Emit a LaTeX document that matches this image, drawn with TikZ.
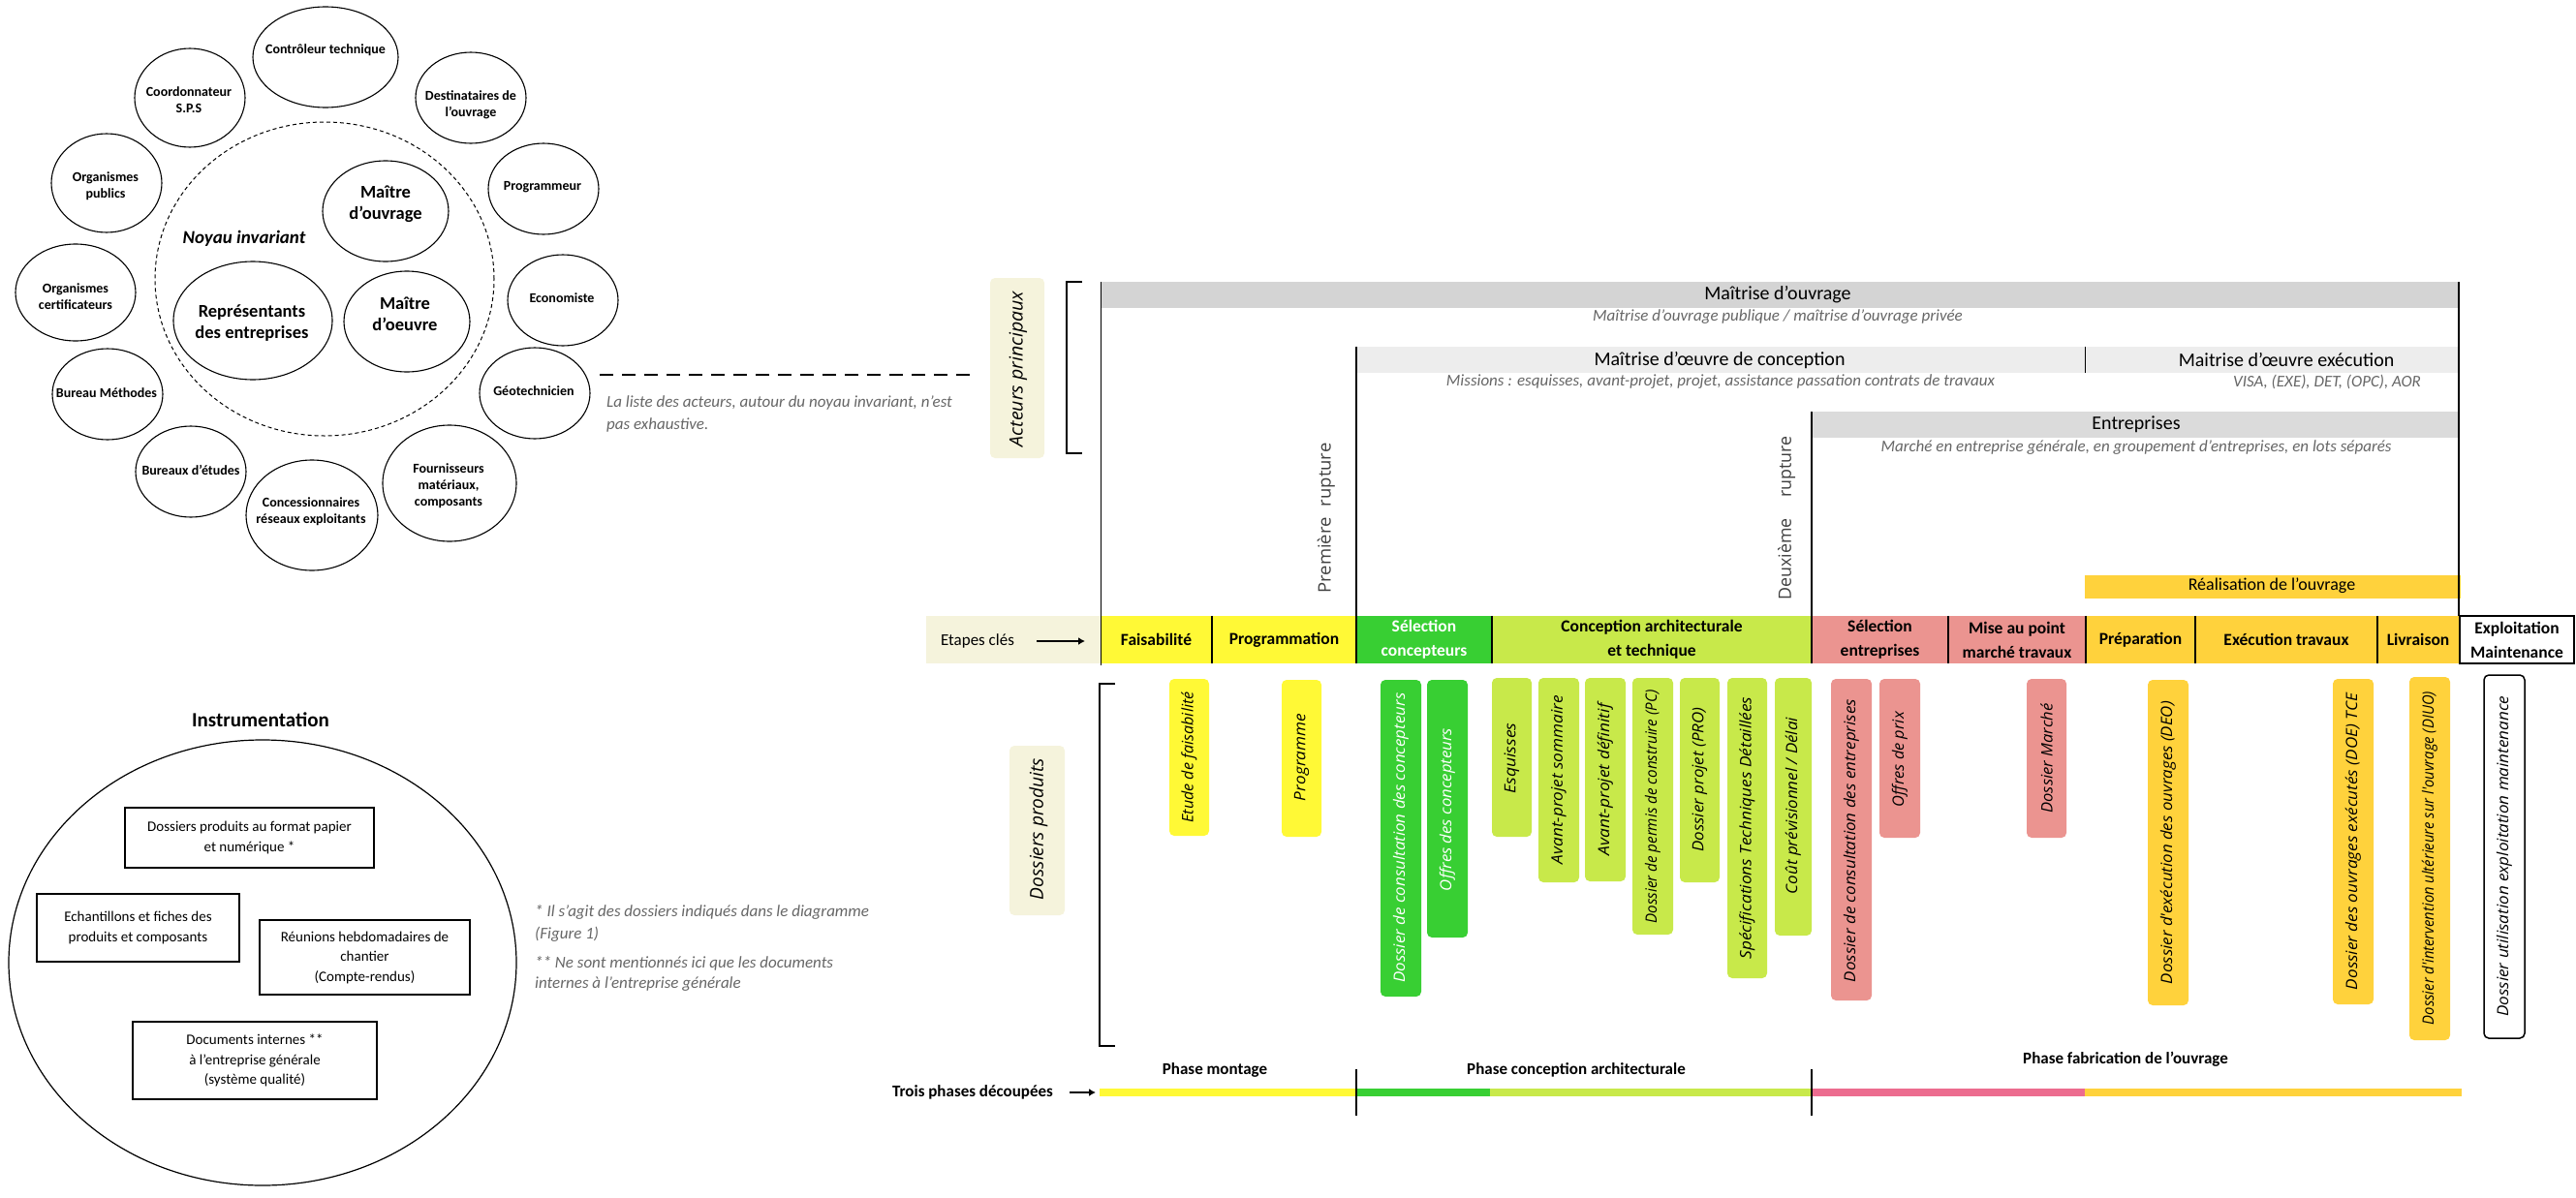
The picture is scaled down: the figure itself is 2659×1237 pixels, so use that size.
\documentclass[tikz,border=0pt]{standalone}
\usepackage{fontspec}
\usepackage{graphicx}
\usetikzlibrary{shapes.geometric,arrows.meta}
\setmainfont{Carlito}
\newfontfamily\rotf{Open Sans}
\definecolor{pale}{HTML}{F5F3DC}
\definecolor{yel}{HTML}{FFF936}
\definecolor{grn}{HTML}{38CF33}
\definecolor{lgrn}{HTML}{C8E94A}
\definecolor{pnk}{HTML}{EB9490}
\definecolor{org}{HTML}{FFD23C}
\definecolor{rose}{HTML}{EC6C8F}
\definecolor{noteg}{HTML}{666666}
\newcommand{\fsz}[2]{\fontsize{#1}{#2}\selectfont}
\tikzset{
  txt/.style={inner sep=0pt,align=center},
  elli/.style={ellipse,draw=black,line width=1.1pt,inner sep=0pt,minimum width=#1},
  sm/.style={txt,font=\fsz{14}{17}\bfseries},
  big/.style={txt,font=\fsz{18.5}{22}\bfseries},
  note/.style={txt,align=left,text=noteg,font=\fsz{17}{23}\itshape},
  sub/.style={txt,text=noteg,font=\fsz{17}{20}\itshape},
  head/.style={txt,font=\fsz{20}{24}},
  stage/.style={txt,font=\fsz{17.5}{25}\bfseries},
  box/.style={rectangle,draw=black,line width=1.2pt,inner sep=0pt,txt,font=\fsz{15}{20.5}},
  bar/.style={rectangle,inner sep=0pt,draw=none},
  card/.style={rectangle,rounded corners=5pt,inner sep=0pt,draw=none},
  rot/.style={txt,rotate=90,font=\rotf\fsz{16}{18}\itshape},
  vline/.style={draw=black,line width=1.8pt},
  brk/.style={draw=black,line width=1.3pt},
  arw/.style={draw=black,line width=2.4pt,-{Latex[length=7pt,width=8pt]}}
}
% ellipse: name cx cy rx ry, then text node tx ty text
\newcommand{\actor}[9]{%
  \node[elli=#4,minimum height=#5] (#1) at (#2,#3) {};
  \node[#6] (#1t) at (#7,#8) {#9};
}
% rectangle from corners: name x1 y1 x2 y2 style
\newcommand{\rbox}[6]{%
  \pgfmathsetmacro{\cxx}{(#2+#4)/2}\pgfmathsetmacro{\cyy}{(#3+#5)/2}%
  \pgfmathsetmacro{\wdd}{#4-#2}\pgfmathsetmacro{\htt}{#5-#3}%
  \node[#6,minimum width=\wdd pt,minimum height=\htt pt] (#1) at (\cxx,\cyy) {};
}
% rotated label of given length: name cx cy length text style
\newcommand{\rlab}[6]{%
  \node[rot,#6] (#1) at (#2,#3) {\resizebox{#4pt}{\height}{#5}};
}
\newcommand{\dcard}[9]{%
  \rbox{#1}{#2}{#3}{#4}{#5}{card,#6}
  \pgfmathsetmacro{\cxx}{(#2+#4)/2}%
  \rlab{#1t}{\cxx}{#7}{#8}{#9}{}
}
\begin{document}
\begin{tikzpicture}[x=1pt,y=-1pt]
\useasboundingbox (0,0) rectangle (2659,1237);
% ---- actors
\node[ellipse,draw=black,line width=1pt,dash pattern=on 4pt off 3pt,minimum width=350pt,minimum height=324pt,inner sep=0pt] (noyau) at (335,288) {};
\actor{ctrl}{336}{59}{150pt}{104pt}{sm}{336}{52}{Contrôleur technique}
\actor{coord}{196}{101}{114pt}{102pt}{sm}{195}{103}{Coordonnateur\\S.P.S}
\actor{dest}{486}{101}{114pt}{94pt}{sm}{486}{108}{Destinataires de\\l'ouvrage}
\actor{prog}{561}{195}{114pt}{94pt}{sm}{560}{193}{Programmeur}
\actor{orgp}{110}{189}{114pt}{102pt}{sm}{109}{192}{Organismes\\publics}
\actor{orgc}{78}{302}{124pt}{100pt}{sm}{78}{306}{Organismes\\certificateurs}
\actor{eco}{581}{310}{114pt}{94pt}{sm}{580}{308}{Economiste}
\actor{geo}{552}{406}{114pt}{94pt}{sm}{551}{404}{Géotechnicien}
\actor{bm}{111}{407}{114pt}{94pt}{sm}{110}{406}{Bureau Méthodes}
\actor{be}{197}{487}{114pt}{94pt}{sm}{197}{485}{Bureaux d'études}
\actor{conc}{322}{532}{136pt}{114pt}{sm}{321}{528}{Concessionnaires\\réseaux exploitants}
\actor{four}{464}{499}{138pt}{120pt}{sm}{463}{502}{Fournisseurs\\matériaux,\\composants}
\actor{mo}{398}{218}{130pt}{104pt}{big}{398}{211}{Maître\\d'ouvrage}
\actor{moe}{420}{332}{130pt}{104pt}{big}{418}{324}{Maître\\d'oeuvre}
\actor{rep}{261}{331}{164pt}{122pt}{big}{260}{334}{Représentants\\des entreprises}
\node[txt,font=\fsz{19}{22}\itshape\bfseries] (noyt) at (252,246) {Noyau invariant};
\coordinate (dl1) at (619,387); \coordinate (dl2) at (1006,387);
\draw[draw=black,line width=2.4pt,dash pattern=on 14pt off 9pt] (dl1) -- (dl2);
\node[note,anchor=west] (lst) at (626,427.5) {La liste des acteurs, autour du noyau invariant, n'est\\pas exhaustive.};
% ---- instrumentation
\node[txt,font=\fsz{21}{24}\bfseries] (inst) at (269,743) {Instrumentation};
\node[ellipse,draw=black,line width=1.2pt,minimum width=524pt,minimum height=460pt,inner sep=0pt] (ie) at (271,994) {};
\node[box,minimum width=257pt,minimum height=62pt] (ba) at (257.5,865) {Dossiers produits au format papier\\et numérique *};
\node[box,minimum width=209pt,minimum height=70pt] (bb) at (142.5,958) {Echantillons et fiches des\\produits et composants};
\node[box,minimum width=217pt,minimum height=77pt] (bc) at (376.5,988.5) {Réunions hebdomadaires de\\chantier\\(Compte-rendus)};
\node[box,minimum width=252pt,minimum height=80pt] (bd) at (263,1095) {Documents internes **\\à l'entreprise générale\\(système qualité)};
\node[note,anchor=west,font=\fsz{17}{23}\itshape] (n1) at (552,953.5) {* Il s'agit des dossiers indiqués dans le diagramme\\(Figure 1)};
\node[note,anchor=west,font=\fsz{17}{21}\itshape] (n2) at (552,1005.5) {** Ne sont mentionnés ici que les documents\\internes à l'entreprise générale};
% ---- actor bars
\rbox{barA}{1136}{291}{2538}{318}{bar,fill=black!17}
\rbox{barB}{1400}{358}{2538}{385}{bar,fill=black!7}
\rbox{barC}{1870}{425}{2538}{452}{bar,fill=black!14}
\rbox{barD}{2152}{594}{2540}{618}{bar,fill=org}
\node[head] (hA) at (1835,304) {Maîtrise d'ouvrage};
\node[sub] (sA) at (1835,327) {Maîtrise d'ouvrage publique / maîtrise d'ouvrage privée};
\node[head] (hB) at (1775,372) {Maîtrise d'œuvre de conception};
\node[sub] (sB) at (1776,394) {Missions : esquisses, avant-projet, projet, assistance passation contrats de travaux};
\node[head] (hC) at (2360,372) {Maitrise d'œuvre exécution};
\node[sub] (sC) at (2402,394) {VISA, (EXE), DET, (OPC), AOR};
\node[head] (hD) at (2205,438) {Entreprises};
\node[sub] (sD) at (2205,462) {Marché en entreprise générale, en groupement d'entreprises, en lots séparés};
\node[txt,font=\fsz{18}{22}] (hE) at (2345,605) {Réalisation de l'ouvrage};
% ---- side labels
\rbox{actb}{1022}{287}{1078}{473}{card,fill=pale}
\rlab{actt}{1051}{381}{160}{Acteurs principaux}{font=\rotf\fsz{19}{22}\itshape}
\rbox{dosb}{1042}{770}{1099}{945}{card,fill=pale}
\rlab{dost}{1072}{856}{146}{Dossiers produits}{font=\rotf\fsz{19}{22}\itshape}
\coordinate (b1a) at (1117,291); \coordinate (b1b) at (1101,291); \coordinate (b1c) at (1101,468); \coordinate (b1d) at (1117,468);
\draw[brk] (b1a) -- (b1b) -- (b1c) -- (b1d);
\coordinate (b2a) at (1151,706); \coordinate (b2b) at (1135,706); \coordinate (b2c) at (1135,1080); \coordinate (b2d) at (1151,1080);
\draw[brk] (b2a) -- (b2b) -- (b2c) -- (b2d);
\rlab{rup1}{1369}{535}{155}{Première\hspace{0.6em}rupture}{text=black!75,font=\rotf\fsz{18}{20}}
\rlab{rup2}{1844}{535}{169}{Deuxième\hspace{1.2em}rupture}{text=black!75,font=\rotf\fsz{18}{20}}
% ---- stages
\rbox{etb}{956}{636}{1136}{685}{bar,fill=pale}
\node[txt,font=\fsz{17}{20}] (ett) at (1009,662) {Etapes clés};
\coordinate (eta1) at (1070,662); \coordinate (eta2) at (1120,662);
\draw[arw] (eta1) -- (eta2);
\rbox{s1}{1136}{636}{1251}{685}{bar,fill=yel}
\rbox{s2}{1251}{636}{1400}{685}{bar,fill=yel}
\rbox{s3}{1400}{636}{1540}{685}{bar,fill=grn}
\rbox{s4}{1540}{636}{1870}{685}{bar,fill=lgrn}
\rbox{s5}{1870}{636}{2011}{685}{bar,fill=pnk}
\rbox{s6}{2011}{636}{2153}{685}{bar,fill=pnk}
\rbox{s7}{2153}{636}{2266}{685}{bar,fill=org}
\rbox{s8}{2266}{636}{2454}{685}{bar,fill=org}
\rbox{s9}{2454}{636}{2538}{685}{bar,fill=org}
\rbox{s10}{2539}{636}{2657}{685}{bar,fill=white,draw=black,line width=2.6pt}
\node[stage] at (s1) {Faisabilité};
\node[stage] at (s2) {Programmation};
\node[stage,text=white] at (s3) {Sélection\\concepteurs};
\node[stage] at (s4) {Conception architecturale\\et technique};
\node[stage] at (s5) {Sélection\\entreprises};
\node[stage] at (s6) {Mise au point\\marché travaux};
\node[stage] at (s7) {Préparation};
\node[stage] at (s8) {Exécution travaux};
\node[stage] at (s9) {Livraison};
\node[stage] at (s10) {Exploitation\\Maintenance};
% ---- vertical lines
\coordinate (v1a) at (1136.5,291); \coordinate (v1b) at (1136.5,687);
\draw[vline] (v1a) -- (v1b);
\coordinate (v2a) at (1400,358); \coordinate (v2b) at (1400,685);
\draw[vline] (v2a) -- (v2b);
\coordinate (v3a) at (1870,425); \coordinate (v3b) at (1870,685);
\draw[vline] (v3a) -- (v3b);
\coordinate (v4a) at (2538,291); \coordinate (v4b) at (2538,636);
\draw[vline] (v4a) -- (v4b);
\coordinate (v5a) at (2152.5,358); \coordinate (v5b) at (2152.5,385);
\draw[vline] (v5a) -- (v5b);
\draw[vline] (s1.north east) -- (s1.south east);
\draw[vline] (s3.north east) -- (s3.south east);
\draw[vline] (s5.north east) -- (s5.south east);
\draw[vline] (s6.north east) -- (s6.south east);
\draw[vline] (s7.north east) -- (s7.south east);
\draw[vline] (s8.north east) -- (s8.south east);
% ---- dossiers
\dcard{d1}{1207}{701}{1248}{863}{fill=yel}{782}{135}{Etude de faisabilité}
\dcard{d2}{1323}{702}{1364}{864}{fill=yel}{782}{90}{Programme}
\dcard{d3}{1425}{702}{1467}{1029}{fill=grn,text=white}{865}{299}{\textcolor{white}{Dossier de consultation des concepteurs}}
\dcard{d4}{1473}{702}{1515}{968}{fill=grn}{836}{168}{\textcolor{white}{Offres des concepteurs}}
\dcard{d5}{1540}{700}{1581}{864}{fill=lgrn}{783}{73}{Esquisses}
\dcard{d6}{1588}{700}{1630}{911}{fill=lgrn}{805}{174}{Avant-projet sommaire}
\dcard{d7}{1636}{700}{1678}{910}{fill=lgrn}{805}{157}{Avant-projet définitif}
\dcard{d8}{1685}{700}{1727}{965}{fill=lgrn}{833}{241}{Dossier de permis de construire (PC)}
\dcard{d9}{1734}{700}{1775}{911}{fill=lgrn}{805}{149}{Dossier projet (PRO)}
\dcard{d10}{1783}{700}{1824}{1010}{fill=lgrn}{855}{271}{Spécifications Techniques Détaillées}
\dcard{d11}{1832}{700}{1870}{966}{fill=lgrn}{832}{182}{Coût prévisionnel / Délai}
\dcard{d12}{1890}{701}{1932}{1033}{fill=pnk}{868}{292}{Dossier de consultation des entreprises}
\dcard{d13}{1940}{701}{1982}{865}{fill=pnk}{784}{98}{Offres de prix}
\dcard{d14}{2092}{701}{2133}{865}{fill=pnk}{783}{113}{Dossier Marché}
\dcard{d15}{2217}{702}{2259}{1038}{fill=org}{870}{292}{Dossier d'exécution des ouvrages (DEO)}
\dcard{d16}{2408}{701}{2450}{1037}{fill=org}{869}{306}{Dossier des ouvrages exécutés (DOE) TCE}
\dcard{d17}{2487}{699}{2529}{1074}{fill=org}{886}{344}{Dossier d'intervention ultérieure sur l'ouvrage (DIUO)}
\dcard{d18}{2564}{697}{2606}{1072}{fill=white,draw=black,line width=1.5pt}{884}{331}{Dossier utilisation exploitation maintenance}
% ---- phases
\rbox{p1}{1135}{1124}{1400}{1132}{bar,fill=yel}
\rbox{p2}{1400}{1124}{1538}{1132}{bar,fill=grn}
\rbox{p3}{1538}{1124}{1870}{1132}{bar,fill=lgrn}
\rbox{p4}{1870}{1124}{2152}{1132}{bar,fill=rose}
\rbox{p5}{2152}{1124}{2541}{1132}{bar,fill=org}
\coordinate (w1a) at (1400,1104); \coordinate (w1b) at (1400,1152);
\draw[vline] (w1a) -- (w1b);
\coordinate (w2a) at (1870,1104); \coordinate (w2b) at (1870,1152);
\draw[vline] (w2a) -- (w2b);
\node[stage,font=\fsz{17}{20}\bfseries] (ph1) at (1254,1105) {Phase montage};
\node[stage,font=\fsz{17}{20}\bfseries] (ph2) at (1627,1105) {Phase conception architecturale};
\node[stage,font=\fsz{17}{20}\bfseries] (ph3) at (2194,1094) {Phase fabrication de l'ouvrage};
\node[stage,font=\fsz{17}{20}\bfseries] (ph0) at (1004,1128) {Trois phases découpées};
\coordinate (pa1) at (1104,1128); \coordinate (pa2) at (1131,1128);
\draw[arw] (pa1) -- (pa2);
\end{tikzpicture}
\end{document}
